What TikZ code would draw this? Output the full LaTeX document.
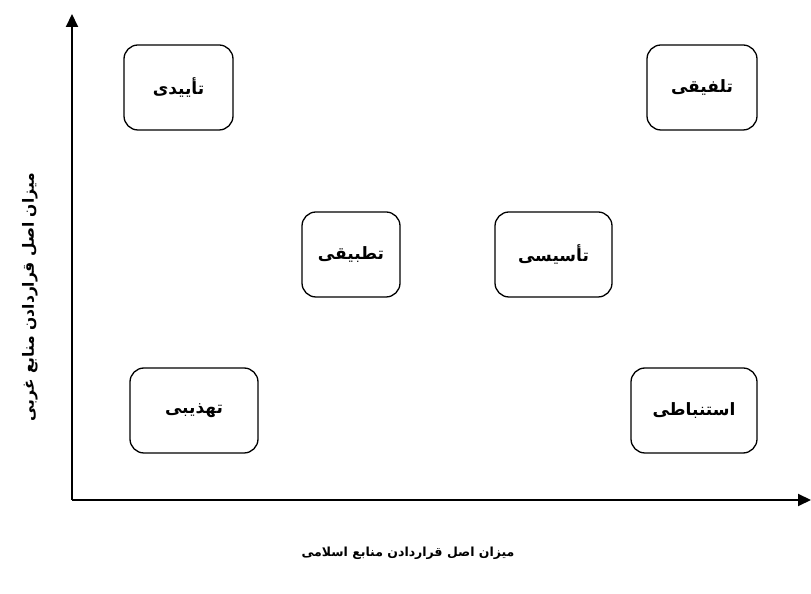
\documentclass[tikz,border=0pt]{standalone}
\usepackage{fontspec}
\TeXXeTstate=1
\newfontfamily\arabicfont[Script=Arabic]{DejaVu Sans}
\usetikzlibrary{arrows.meta}
\tikzset{
  catbox/.style={draw, line width=1.3pt, rounded corners=14pt, minimum height=85pt, inner sep=0pt, font=\arabicfont\bfseries\fontsize{17}{20}\selectfont},
  axis/.style={line width=2pt, -{Triangle[length=13pt,width=12pt]}},
  axlabel/.style={font=\arabicfont\bfseries\fontsize{12.5}{15}\selectfont}
}
\begin{document}
\begin{tikzpicture}[x=1pt,y=1pt]
\useasboundingbox (0,0) rectangle (811,594);
\coordinate (O) at (72,94);
\coordinate (Ytip) at (72,580);
\coordinate (Xtip) at (811,94);
\draw[axis] (O) -- (Ytip);
\draw[axis] (O) -- (Xtip);
\node[catbox, minimum width=109pt] (ta) at (178.5,506.5) {\beginR تأییدی\endR};
\node[catbox, minimum width=110pt] (tl) at (702,506.5) {\beginR تلفیقی\endR};
\node[catbox, minimum width=98pt] (tt) at (351,339.5) {\beginR تطبیقی\endR};
\node[catbox, minimum width=117pt] (ts) at (553.5,339.5) {\beginR تأسیسی\endR};
\node[catbox, minimum width=128pt] (th) at (194,183.5) {\beginR تهذیبی\endR};
\node[catbox, minimum width=126pt] (es) at (694,183.5) {\beginR استنباطی\endR};
\node[axlabel, rotate=90, font=\arabicfont\bfseries\fontsize{15.5}{18}\selectfont] (yl) at (30,297) {\beginR میزان اصل قراردادن منابع غربی\endR};
\node[axlabel] (xl) at (408,41) {\beginR میزان اصل قراردادن منابع اسلامی\endR};
\end{tikzpicture}
\end{document}
